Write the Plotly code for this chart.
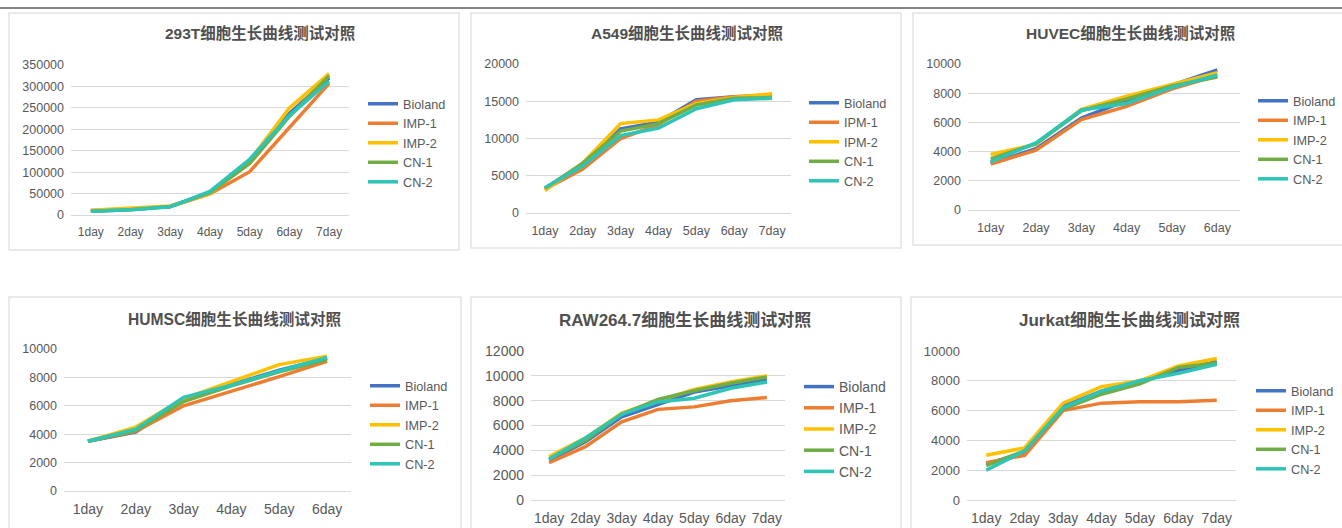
import plotly.graph_objects as go

W, H = 1342, 528

series_names = ["Bioland", "IMP-1", "IMP-2", "CN-1", "CN-2"]
a549_names = ["Bioland", "IPM-1", "IPM-2", "CN-1", "CN-2"]
colors = ["#4472C4", "#ED7D31", "#FFC000", "#70AD47", "#2EC4B6"]

days7 = ["1day", "2day", "3day", "4day", "5day", "6day", "7day"]
days6 = ["1day", "2day", "3day", "4day", "5day", "6day"]

# 293T
t293_bioland = [9500, 13000, 20000, 53000, 125000, 237000, 320000]
t293_imp1 = [10500, 14000, 20000, 49000, 101000, 205000, 307000]
t293_imp2 = [11000, 15000, 21000, 50000, 127000, 250000, 330000]
t293_cn1 = [9000, 12500, 20000, 52000, 120000, 230000, 325000]
t293_cn2 = [9000, 12000, 19000, 55000, 130000, 232000, 312000]

# A549
a549_bioland = [3300, 6500, 11300, 12200, 15200, 15600, 15700]
a549_ipm1 = [3200, 5900, 10000, 11900, 15000, 15600, 15900]
a549_ipm2 = [3000, 6700, 12000, 12500, 14700, 15500, 16000]
a549_cn1 = [3300, 6700, 11000, 12000, 14500, 15400, 15500]
a549_cn2 = [3400, 6300, 10400, 11400, 14000, 15200, 15400]

# HUVEC
huvec_bioland = [3200, 4200, 6300, 7500, 8550, 9600]
huvec_imp1 = [3150, 4100, 6200, 7100, 8300, 9200]
huvec_imp2 = [3800, 4500, 6900, 7800, 8600, 9400]
huvec_cn1 = [3500, 4550, 6800, 7600, 8500, 9100]
huvec_cn2 = [3300, 4600, 6850, 7300, 8400, 9250]

# HUMSC
humsc_bioland = [3500, 4150, 6400, 7500, 8500, 9350]
humsc_imp1 = [3500, 4200, 6000, 7000, 8050, 9130]
humsc_imp2 = [3500, 4500, 6500, 7700, 8900, 9500]
humsc_cn1 = [3500, 4250, 6300, 7400, 8400, 9250]
humsc_cn2 = [3500, 4350, 6600, 7450, 8450, 9400]

# RAW264.7
raw_bioland = [3200, 4700, 6700, 7700, 8700, 9200, 9700]
raw_imp1 = [3000, 4300, 6300, 7300, 7500, 8000, 8250]
raw_imp2 = [3500, 5000, 7000, 8000, 8900, 9500, 10000]
raw_cn1 = [3300, 4800, 6900, 8100, 8800, 9400, 9900]
raw_cn2 = [3300, 5000, 6900, 7900, 8200, 9000, 9500]

# Jurkat
jurkat_bioland = [2400, 3200, 6300, 7300, 8000, 8700, 9300]
jurkat_imp1 = [2500, 3000, 6000, 6500, 6600, 6600, 6700]
jurkat_imp2 = [3000, 3500, 6500, 7600, 8000, 9000, 9500]
jurkat_cn1 = [2300, 3300, 6100, 7100, 7800, 8900, 9200]
jurkat_cn2 = [2000, 3300, 6200, 7300, 8000, 8500, 9100]

FONT = "Liberation Sans, Arial, Noto Sans CJK SC, sans-serif"
GRAY = "#595959"


def fx(px):
    return px / W


def fy(py):
    return 1 - py / H


panels = [
    dict(title="293T细胞生长曲线测试对照", cats=days7, names=series_names,
         data=[t293_bioland, t293_imp1, t293_imp2, t293_cn1, t293_cn2],
         ymax=350000, dtick=50000, box=(9, 13, 459, 250),
         plot=(71, 65, 349, 215), title_xy=(260, 33), title_size=15.5,
         legend_xy=(363, 89), font=12.5, xfont=12, lfont=12.7),
    dict(title="A549细胞生长曲线测试对照", cats=days7, names=a549_names,
         data=[a549_bioland, a549_ipm1, a549_ipm2, a549_cn1, a549_cn2],
         ymax=20000, dtick=5000, box=(471, 13, 901, 248),
         plot=(526, 64, 791, 213), title_xy=(687, 33), title_size=15.5,
         legend_xy=(804, 88), font=12.5, xfont=12.5, lfont=12.7),
    dict(title="HUVEC细胞生长曲线测试对照", cats=days6, names=series_names,
         data=[huvec_bioland, huvec_imp1, huvec_imp2, huvec_cn1, huvec_cn2],
         ymax=10000, dtick=2000, box=(913, 13, 1346, 245),
         plot=(968, 64, 1240, 210), title_xy=(1130, 33), title_size=15.5,
         legend_xy=(1253, 86), font=12.5, xfont=12.5, lfont=12.7),
    dict(title="HUMSC细胞生长曲线测试对照", cats=days6, names=series_names,
         data=[humsc_bioland, humsc_imp1, humsc_imp2, humsc_cn1, humsc_cn2],
         ymax=10000, dtick=2000, box=(9, 297, 461, 540),
         plot=(64, 349, 351, 491), title_xy=(235, 319), title_size=15.6,
         legend_xy=(365, 371), font=12.5, xfont=14, lfont=12.7),
    dict(title="RAW264.7细胞生长曲线测试对照", cats=days7, names=series_names,
         data=[raw_bioland, raw_imp1, raw_imp2, raw_cn1, raw_cn2],
         ymax=12000, dtick=2000, box=(471, 297, 901, 540),
         plot=(531, 351, 785, 500), title_xy=(685, 320), title_size=17,
         legend_xy=(799, 371), font=14, xfont=14, lfont=14),
    dict(title="Jurkat细胞生长曲线测试对照", cats=days7, names=series_names,
         data=[jurkat_bioland, jurkat_imp1, jurkat_imp2, jurkat_cn1, jurkat_cn2],
         ymax=10000, dtick=2000, box=(911, 297, 1346, 540),
         plot=(967, 351, 1236, 500), title_xy=(1129, 320), title_size=17,
         legend_xy=(1251, 376), font=13, xfont=14, lfont=12.7),
]

fig = go.Figure()
layout = dict(
    width=W, height=H,
    margin=dict(l=0, r=0, t=0, b=0, autoexpand=False),
    paper_bgcolor="white", plot_bgcolor="white",
    font=dict(family=FONT, color=GRAY),
    shapes=[], annotations=[],
)

# thin dark rule across the top
layout["shapes"].append(dict(type="line", xref="paper", yref="paper",
                             x0=0, x1=1, y0=fy(8), y1=fy(8),
                             line=dict(color="#5a5a5a", width=1.3)))

for i, p in enumerate(panels, start=1):
    sfx = "" if i == 1 else str(i)
    lg = "legend" + sfx
    for name, vals, col in zip(p["names"], p["data"], colors):
        fig.add_trace(go.Scatter(
            x=p["cats"], y=vals, name=name, mode="lines",
            line=dict(color=col, width=3.5),
            xaxis="x" + sfx, yaxis="y" + sfx, legend=lg,
        ))
    x0, y0, x1, y1 = p["plot"]
    layout["xaxis" + sfx] = dict(
        domain=[fx(x0), fx(x1)], anchor="y" + sfx, type="category",
        range=[-0.5, len(p["cats"]) - 0.5], showgrid=False, showline=False,
        zeroline=False, ticks="", ticklabelstandoff=8,
        tickfont=dict(size=p["xfont"], color=GRAY), fixedrange=True,
    )
    layout["yaxis" + sfx] = dict(
        domain=[fy(y1), fy(y0)], anchor="x" + sfx, range=[0, p["ymax"]],
        dtick=p["dtick"], tick0=0, showgrid=True, gridcolor="#D9D9D9",
        gridwidth=1, zeroline=True, zerolinecolor="#D9D9D9", zerolinewidth=1,
        showline=False, ticks="", tickformat="d", ticklabelstandoff=6,
        tickfont=dict(size=p["font"], color=GRAY), fixedrange=True,
    )
    lx, ly = p["legend_xy"]
    layout[lg] = dict(
        x=fx(lx), y=fy(ly), xanchor="left", yanchor="top",
        xref="paper", yref="paper", bgcolor="rgba(0,0,0,0)",
        font=dict(size=p["lfont"], color=GRAY, family=FONT),
        traceorder="normal", itemclick=False, itemdoubleclick=False,
    )
    bx0, by0, bx1, by1 = p["box"]
    layout["shapes"].append(dict(type="rect", xref="paper", yref="paper",
                                 x0=fx(bx0), x1=fx(bx1), y0=fy(by1), y1=fy(by0),
                                 line=dict(color="#E3E3E3", width=1.5),
                                 layer="below"))
    tx, ty = p["title_xy"]
    layout["annotations"].append(dict(
        text="<b>" + p["title"] + "</b>", x=fx(tx), y=fy(ty), xref="paper",
        yref="paper", xanchor="center", yanchor="middle", showarrow=False,
        font=dict(size=p["title_size"], color="#505050", family=FONT),
    ))

fig.update_layout(**layout)

# pin the chart to the top-left corner of the page (no body margin)
pin = (
    "document.body.style.margin='0';"
    "var d=document.getElementById('{plot_id}');"
    "d.style.position='absolute';d.style.left='0px';d.style.top='0px';"
)
fig.write_html("out.html", post_script=pin, config={"displayModeBar": False})
